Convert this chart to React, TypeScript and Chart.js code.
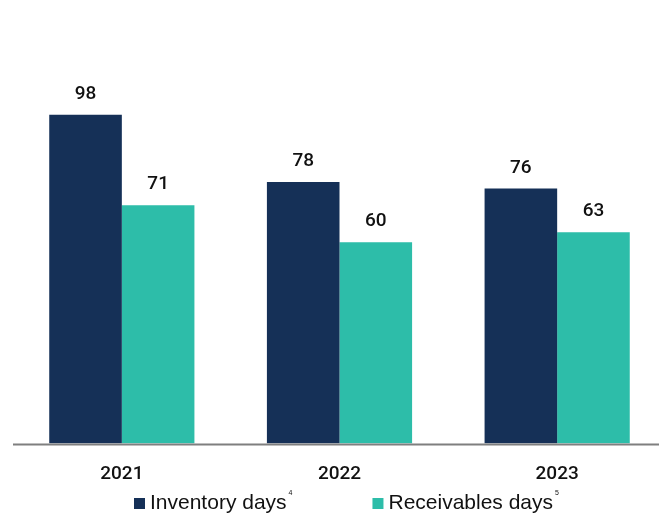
import React, { useEffect, useRef } from "react";
import { Chart, registerables } from "chart.js";

Chart.register(...registerables);

const years = ["2021", "2022", "2023"];
const inventoryDays = [98, 78, 76];
const receivablesDays = [71, 60, 63];
const seriesNames = ["Inventory days", "Receivables days"];
const seriesNotes = ["4", "5"];
const seriesColors = ["#153057", "#2dbda9"];

const valueLabels = {
  id: "valueLabels",
  afterDatasetsDraw(chart: any) {
    const ctx = chart.ctx;
    ctx.save();
    ctx.font = "500 19px Roboto";
    ctx.fillStyle = "#111111";
    ctx.textAlign = "center";
    ctx.textBaseline = "alphabetic";
    chart.data.datasets.forEach((ds: any, di: number) => {
      const meta = chart.getDatasetMeta(di);
      meta.data.forEach((bar: any, i: number) => {
        ctx.fillText(String(ds.data[i]), bar.x, bar.y - 16);
      });
    });
    // axis line
    const a = chart.chartArea;
    ctx.strokeStyle = "#7f7f7f";
    ctx.lineWidth = 2;
    ctx.beginPath();
    ctx.moveTo(a.left, a.bottom + 1);
    ctx.lineTo(chart.width, a.bottom + 1);
    ctx.stroke();
    ctx.restore();
  },
};

const customLegend = {
  id: "customLegend",
  afterDraw(chart: any) {
    const ctx = chart.ctx;
    const a = chart.chartArea;
    ctx.save();
    let x = a.left + 121;
    const baseY = chart.height - 4;
    seriesNames.forEach((name, i) => {
      ctx.fillStyle = seriesColors[i];
      ctx.fillRect(x, baseY - 11, 11, 11);
      x += 16;
      ctx.font = "21px 'Liberation Sans'";
      ctx.fillStyle = "#111111";
      ctx.textAlign = "left";
      ctx.textBaseline = "alphabetic";
      ctx.fillText(name, x, baseY);
      x += ctx.measureText(name).width + 2;
      ctx.font = "7px 'Liberation Sans'";
      ctx.fillText(seriesNotes[i], x, baseY - 14);
      x += ctx.measureText(seriesNotes[i]).width;
      x += 80;
    });
    ctx.restore();
  },
};

export default function App() {
  const ref = useRef<HTMLCanvasElement | null>(null);
  useEffect(() => {
    if (!ref.current) return;
    const chart = new Chart(ref.current, {
      type: "bar",
      data: {
        labels: years,
        datasets: [
          {
            label: seriesNames[0],
            data: inventoryDays,
            backgroundColor: seriesColors[0],
            categoryPercentage: 0.667,
            barPercentage: 1,
          },
          {
            label: seriesNames[1],
            data: receivablesDays,
            backgroundColor: seriesColors[1],
            categoryPercentage: 0.667,
            barPercentage: 1,
          },
        ],
      },
      options: {
        animation: false,
        responsive: false,
        maintainAspectRatio: false,
        layout: { padding: { top: 41, left: 13, right: 14, bottom: 0 } },
        plugins: { legend: { display: false }, tooltip: { enabled: false } },
        scales: {
          y: { display: false, min: 0, max: 120 },
          x: {
            grid: { display: false, drawTicks: false },
            border: { display: false },
            ticks: {
              padding: 19,
              color: "#111111",
              font: { family: "Roboto", size: 19, weight: "500" },
            },
            afterFit: (scale: any) => {
              scale.height = 513 - 41 - 402.5;
            },
          },
        },
      },
      plugins: [valueLabels, customLegend],
    });
    return () => chart.destroy();
  }, []);
  return (
    <div style={{ position: "fixed", left: 0, top: 0, width: 659, height: 513, overflow: "hidden", background: "#fff" }}>
      <canvas ref={ref} width={680} height={513} style={{ display: "block" }} />
    </div>
  );
}
